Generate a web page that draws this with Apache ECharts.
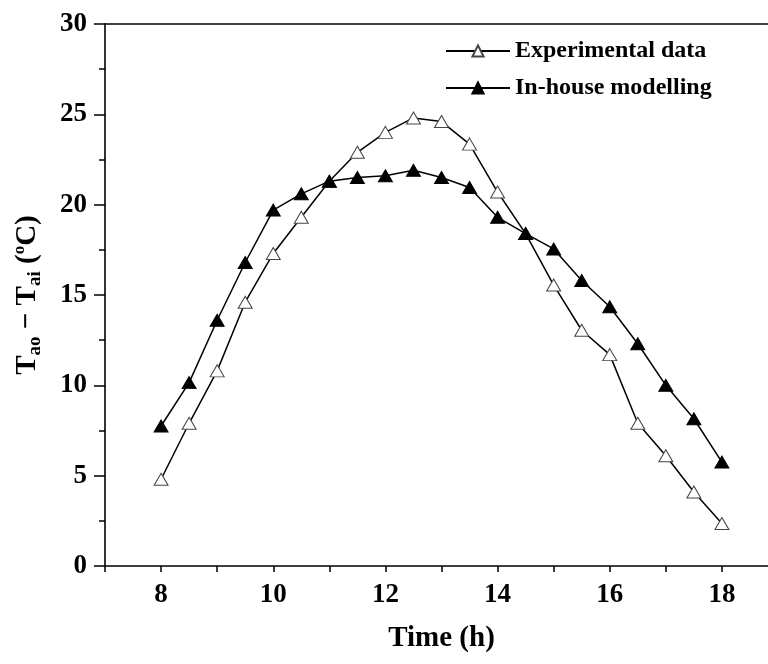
<!DOCTYPE html>
<html>
<head>
<meta charset="utf-8">
<script src="https://cdn.jsdelivr.net/npm/echarts@6/dist/echarts.min.js"></script>
<style>html,body{margin:0;padding:0;background:#fff;}#c{width:768px;height:664px;}</style>
</head>
<body>
<div id="c"></div>
<script>
const hours = [8, 8.5, 9, 9.5, 10, 10.5, 11, 11.5, 12, 12.5, 13, 13.5, 14, 14.5, 15, 15.5, 16, 16.5, 17, 17.5, 18];
const experimental = [4.8, 7.9, 10.8, 14.6, 17.3, 19.3, 21.3, 22.9, 24.0, 24.8, 24.6, 23.35, 20.7, 18.4, 15.55, 13.05, 11.7, 7.9, 6.1, 4.1, 2.35];
const modelling = [7.75, 10.15, 13.6, 16.8, 19.7, 20.6, 21.3, 21.5, 21.6, 21.9, 21.5, 20.95, 19.3, 18.4, 17.55, 15.8, 14.35, 12.3, 10.0, 8.15, 5.75];
const seriesNames = ['Experimental data', 'In-house modelling'];
const xTitle = 'Time (h)';

const FONT = '"Liberation Serif", "Times New Roman", serif';
const chart = echarts.init(document.getElementById('c'), null, {renderer: 'canvas'});

function pairs(ys) { return hours.map((h, i) => [h, ys[i]]); }

chart.setOption({
  animation: false,
  backgroundColor: '#fff',
  grid: {left: 105, right: -10, top: 24, bottom: 98, containLabel: false, outerBoundsMode: 'none'},
  legend: {
    orient: 'vertical', left: 440, top: 34,
    itemWidth: 64, itemHeight: 14, itemGap: 13,
    textStyle: {fontFamily: FONT, fontWeight: 'bold', fontSize: 24, color: '#000', padding: [0, 0, 0, 0]},
    data: seriesNames
  },
  xAxis: [{
    type: 'value', min: 7, max: 19, interval: 1, position: 'bottom',
    axisLine: {show: true, onZero: false, lineStyle: {color: '#000', width: 1.6}},
    axisTick: {show: true, inside: false, length: 6, lineStyle: {color: '#000', width: 1.5}},
    axisLabel: {show: true, margin: 16, fontFamily: FONT, fontWeight: 'bold', fontSize: 27, color: '#000',
      formatter: v => (v % 2 === 0 && v >= 8 && v <= 18) ? String(v) : ''},
    splitLine: {show: false},
    name: xTitle, nameLocation: 'middle', nameGap: 58,
    nameTextStyle: {fontFamily: FONT, fontWeight: 'bold', fontSize: 29, color: '#000'}
  }, {
    type: 'value', min: 7, max: 19, interval: 1, position: 'top',
    axisLine: {show: true, onZero: false, lineStyle: {color: '#000', width: 1.6}},
    axisTick: {show: false}, axisLabel: {show: false}, splitLine: {show: false}
  }],
  yAxis: {
    type: 'value', min: 0, max: 30, interval: 5,
    axisLine: {show: true, onZero: false, lineStyle: {color: '#000', width: 1.6}},
    axisTick: {show: true, inside: false, length: 11, lineStyle: {color: '#000', width: 1.5}},
    minorTick: {show: true, splitNumber: 2, length: 6, lineStyle: {color: '#000', width: 1.5}},
    axisLabel: {margin: 18, fontFamily: FONT, fontWeight: 'bold', fontSize: 27, color: '#000'},
    splitLine: {show: false},
    name: '{b|T}{s|ao}{b| − T}{s|ai}{b| (}{p|o}{b|C)}',
    nameLocation: 'middle', nameRotate: 90, nameGap: 60,
    nameTextStyle: {
      fontFamily: FONT, fontWeight: 'bold', fontSize: 29, color: '#000',
      rich: {
        b: {fontFamily: FONT, fontWeight: 'bold', fontSize: 29, color: '#000', lineHeight: 34, verticalAlign: 'middle'},
        s: {fontFamily: FONT, fontWeight: 'bold', fontSize: 19, color: '#000', lineHeight: 34, verticalAlign: 'bottom'},
        p: {fontFamily: FONT, fontWeight: 'bold', fontSize: 17, color: '#000', lineHeight: 34, verticalAlign: 'top'}
      }
    }
  },
  series: [{
    name: seriesNames[0], type: 'line', xAxisIndex: 0,
    data: pairs(experimental),
    symbol: 'triangle', symbolSize: [14, 12], showAllSymbol: true,
    lineStyle: {color: '#000', width: 1.5},
    itemStyle: {color: '#fff', borderColor: '#444', borderWidth: 1},
    z: 2
  }, {
    name: seriesNames[1], type: 'line', xAxisIndex: 0,
    data: pairs(modelling),
    symbol: 'triangle', symbolSize: [14, 12], showAllSymbol: true,
    lineStyle: {color: '#000', width: 1.5},
    itemStyle: {color: '#000', borderColor: '#000', borderWidth: 1},
    z: 3
  }]
});
</script>
</body>
</html>
